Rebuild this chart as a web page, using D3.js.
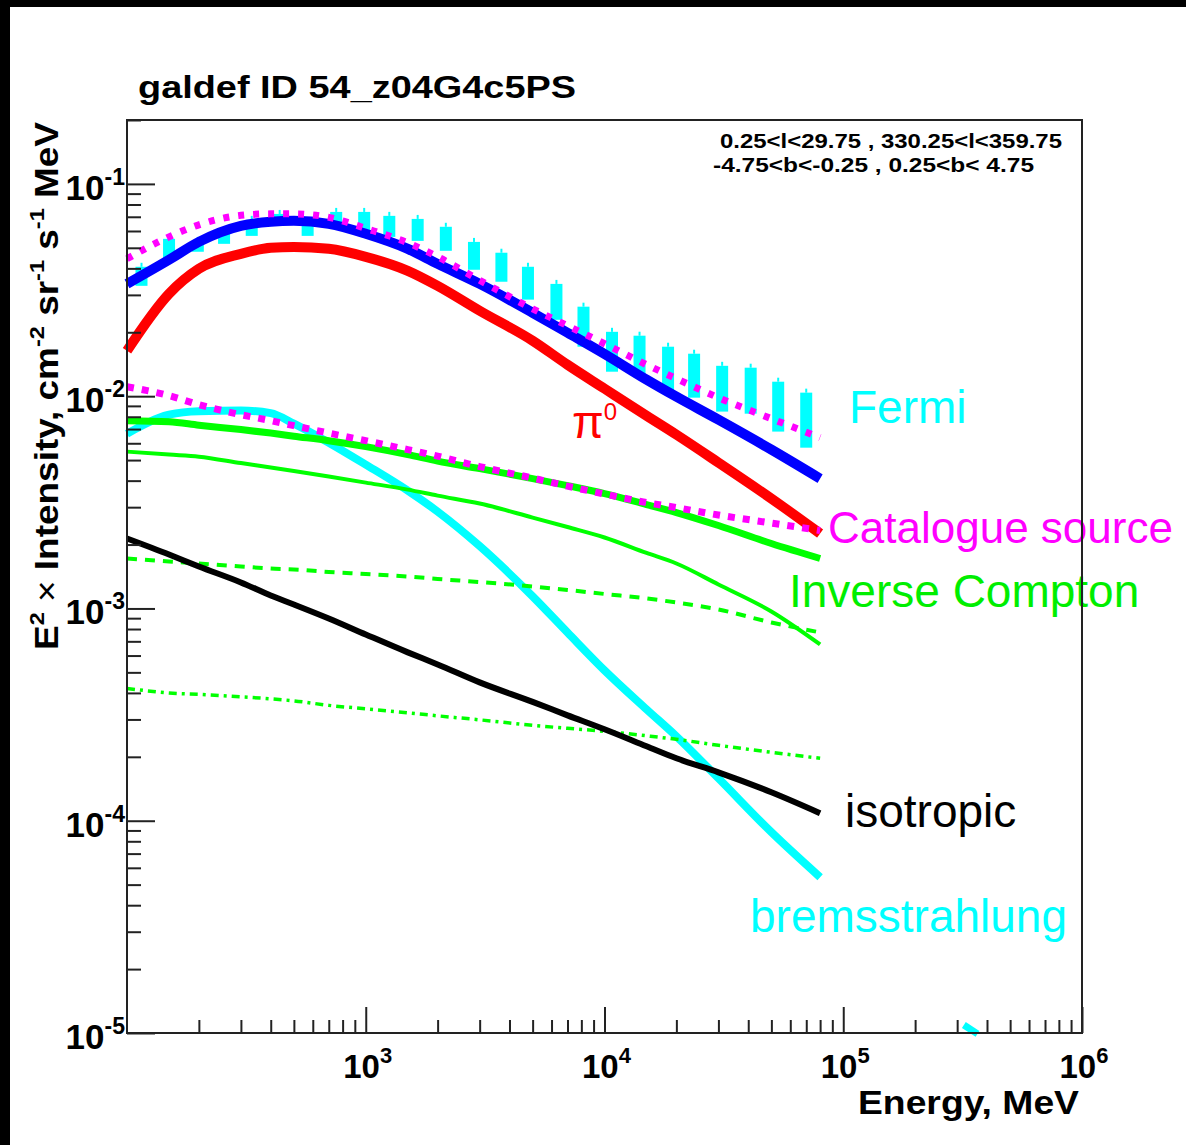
<!DOCTYPE html>
<html>
<head>
<meta charset="utf-8">
<script src="https://cdn.jsdelivr.net/npm/d3@7"></script>
<style>
  body { margin: 0; background: #000; }
  text { font-family: "Liberation Sans", Arial, sans-serif; }
</style>
</head>
<body>
<svg id="chart"></svg>
<script>
// energy grid of the model curves (MeV)
const energies = [100, 150, 200, 300, 400, 500, 700, 1000, 1500, 2000, 3000, 5000, 7000, 10000, 15000, 20000, 30000, 50000, 80000];

// E^2 x intensity, cm^-2 sr^-1 s^-1 MeV
const totalModel = [0.0338, 0.0439, 0.0533, 0.0634, 0.0663, 0.0670, 0.0648, 0.0582, 0.0494, 0.0420, 0.0338, 0.0247, 0.0199, 0.0158, 0.01196, 0.00994, 0.00775, 0.00560, 0.00409];
const pionDecay = [0.01637, 0.03037, 0.0398, 0.04685, 0.0500, 0.0505, 0.04945, 0.04535, 0.03896, 0.0331, 0.02526, 0.01825, 0.01406, 0.01085, 0.00809, 0.00659, 0.004865, 0.003293, 0.002254];
const totalWithSources = [0.04437, 0.0563, 0.06415, 0.0711, 0.07225, 0.07225, 0.0696, 0.0617, 0.0528, 0.04535, 0.03515, 0.0258, 0.02147, 0.01766, 0.01406, 0.01209, 0.00984, 0.007835, 0.00638];
const catalogueSources = [0.01108, 0.010055, 0.00912, 0.00818, 0.00767, 0.00726, 0.0067, 0.00617, 0.0056, 0.00522, 0.00466, 0.004113, 0.00377, 0.003458, 0.003153, 0.002987, 0.002754, 0.002526, 0.002329];
const bremsstrahlung = [0.00666, 0.00818, 0.0085, 0.00855, 0.00832, 0.00742, 0.00604, 0.00476, 0.00359, 0.00286, 0.001968, 0.00114, 0.00077, 0.000511, 0.0003347, 0.0002497, 0.0001585, 0.0000883, 0.0000542];
const icTotal = [0.00767, 0.007585, 0.0073, 0.00696, 0.0067, 0.00648, 0.00617, 0.005785, 0.005305, 0.004945, 0.00456, 0.00409, 0.00379, 0.003477, 0.003085, 0.00283, 0.002458, 0.002022, 0.001719];
const icOptical = [0.00548, 0.005305, 0.00519, 0.00484, 0.00461, 0.004437, 0.00418, 0.003916, 0.00363, 0.0034, 0.00312, 0.00268, 0.002418, 0.002159, 0.001825, 0.001628, 0.001297, 0.000968, 0.000677];
const icInfrared = [0.001719, 0.001664, 0.001628, 0.001576, 0.001542, 0.001526, 0.001485, 0.001453, 0.001414, 0.001377, 0.001332, 0.001269, 0.001222, 0.00117, 0.001115, 0.001067, 0.000989, 0.000859, 0.000771];
const icCMB = [0.00042, 0.0004, 0.0003937, 0.0003833, 0.0003751, 0.0003671, 0.0003495, 0.0003366, 0.0003223, 0.000312, 0.0002987, 0.0002814, 0.0002725, 0.0002638, 0.0002512, 0.0002418, 0.0002266, 0.0002101, 0.0001968];
const isotropic = [0.002135, 0.001795, 0.001576, 0.001326, 0.001151, 0.001044, 0.000897, 0.000754, 0.000621, 0.000545, 0.0004485, 0.000363, 0.0003136, 0.0002696, 0.0002242, 0.0001968, 0.0001691, 0.0001362, 0.0001085];

// Fermi data boxes
const fermiE = [115, 150, 198, 255, 333, 436, 571, 752, 985, 1255, 1650, 2165, 2840, 3700, 4780, 6290, 8165, 10750, 14020, 18460, 23730, 31100, 40950, 53400, 69970];
const fermiLow = [0.0331, 0.0429, 0.0479, 0.0522, 0.0569, 0.0663, 0.0569, 0.0634, 0.0594, 0.0563, 0.0539, 0.0484, 0.0394, 0.0346, 0.0285, 0.0229, 0.0171, 0.01304, 0.01249, 0.01061, 0.00984, 0.00846, 0.00827, 0.00681, 0.00572];
const fermiHigh = [0.0407, 0.0551, 0.0539, 0.0601, 0.0677, 0.0722, 0.0648, 0.0738, 0.0738, 0.0707, 0.0684, 0.0628, 0.0533, 0.0474, 0.0407, 0.0338, 0.0264, 0.0201, 0.01927, 0.0171, 0.01585, 0.0139, 0.01362, 0.0117, 0.01039];

// stray piece near the bottom axis
const strayE = [320000, 365000];
const strayI = [0.0000109, 0.0000099];

// tick labels
const xTickExp = [3, 4, 5, 6];
const yTickExp = [-1, -2, -3, -4, -5];

const W = 1186, H = 1145;
const margin = { left: 127, right: 1082, top: 120, bottom: 1033 };

const svg = d3.select("#chart").attr("width", W).attr("height", H);

svg.append("rect").attr("width", W).attr("height", H).attr("fill", "#000");
svg.append("rect").attr("x", 10).attr("y", 7).attr("width", W - 10).attr("height", H - 7).attr("fill", "#fff");

const x = d3.scaleLog().domain([100, 1e6]).range([margin.left, margin.right]);
const y = d3.scaleLog().domain([1e-5, 0.2]).range([margin.bottom, margin.top]);

// ---- fermi boxes
const fermi = fermiE.map((e, i) => ({ e, lo: fermiLow[i], hi: fermiHigh[i] }));
const gF = svg.append("g");
gF.selectAll("rect").data(fermi).join("rect")
    .attr("x", d => x(d.e) - 6)
    .attr("width", 12)
    .attr("y", d => y(d.hi))
    .attr("height", d => y(d.lo) - y(d.hi))
    .attr("fill", "#00ffff");
gF.selectAll("line").data(fermi).join("line")
    .attr("x1", d => x(d.e)).attr("x2", d => x(d.e))
    .attr("y1", d => y(d.hi) - 4).attr("y2", d => y(d.hi))
    .attr("stroke", "#00ffff").attr("stroke-width", 2);

// ---- model curves
const series = [
    { v: totalModel, color: "#0000ff", w: 10 },
    { v: pionDecay, color: "#ff0000", w: 10 },
    { v: bremsstrahlung, color: "#00ffff", w: 8 },
    { v: icTotal, color: "#00ff00", w: 7 },
    { v: icOptical, color: "#00ff00", w: 4 },
    { v: icInfrared, color: "#00ff00", w: 4, dash: "10,8" },
    { v: icCMB, color: "#00ff00", w: 3.5, dash: "8,5,3,5" },
    { v: isotropic, color: "#000000", w: 6 },
    { v: totalWithSources, color: "#ff00ff", w: 7, dash: "6,9" },
    { v: catalogueSources, color: "#ff00ff", w: 7, dash: "7,8" }
];

const line = d3.line()
    .x(d => x(d[0]))
    .y(d => y(d[1]))
    .curve(d3.curveMonotoneX);

svg.append("g").selectAll("path").data(series).join("path")
    .attr("d", s => line(energies.map((e, i) => [e, s.v[i]])))
    .attr("fill", "none")
    .attr("stroke", s => s.color)
    .attr("stroke-width", s => s.w)
    .attr("stroke-dasharray", s => s.dash || null);

svg.append("path")
    .attr("d", line.curve(d3.curveLinear)(strayE.map((e, i) => [e, strayI[i]])))
    .attr("fill", "none").attr("stroke", "#00ffff").attr("stroke-width", 7);

// ---- axes (ticks inside the frame)
const xMinor = [], yMinor = [];
for (let p = 2; p < 6; p++) for (let k = 2; k <= 9; k++) xMinor.push(k * Math.pow(10, p));
for (let p = -5; p < 0; p++) for (let k = 2; k <= 9; k++) if (k * Math.pow(10, p) <= 0.2) yMinor.push(k * Math.pow(10, p));

function styleAxis(g) {
    g.select(".domain").remove();
    g.selectAll("line").attr("stroke", "#222").attr("stroke-width", 2);
}

svg.append("g").attr("transform", `translate(0,${margin.bottom})`)
    .call(d3.axisTop(x).tickValues(xMinor).tickSize(13).tickFormat(""))
    .call(styleAxis);
svg.append("g").attr("transform", `translate(0,${margin.bottom})`)
    .call(d3.axisTop(x).tickValues(xTickExp.map(p => Math.pow(10, p))).tickSize(26).tickFormat(""))
    .call(styleAxis);
svg.append("g").attr("transform", `translate(${margin.left},0)`)
    .call(d3.axisRight(y).tickValues(yMinor).tickSize(14).tickFormat(""))
    .call(styleAxis);
svg.append("g").attr("transform", `translate(${margin.left},0)`)
    .call(d3.axisRight(y).tickValues(yTickExp.map(p => Math.pow(10, p))).tickSize(28).tickFormat(""))
    .call(styleAxis);

// tick labels 10^n
function powLabel(sel, exp, sup) {
    sel.append("tspan").text("10");
    sel.append("tspan").attr("font-size", sup).attr("dy", -15).text(exp);
}
xTickExp.forEach(p => {
    svg.append("text")
        .attr("x", x(Math.pow(10, p)) + 2).attr("y", 1078)
        .attr("text-anchor", "middle")
        .attr("font-size", 33).attr("font-weight", "bold")
        .call(powLabel, p, 22);
});
yTickExp.forEach(p => {
    svg.append("text")
        .attr("x", 125).attr("y", y(Math.pow(10, p)) + 16)
        .attr("text-anchor", "end")
        .attr("font-size", 35).attr("font-weight", "bold")
        .call(powLabel, p, 23);
});

// axis titles
svg.append("text")
    .attr("x", 1079).attr("y", 1114)
    .attr("text-anchor", "end")
    .attr("font-size", 33).attr("font-weight", "bold")
    .attr("textLength", 221).attr("lengthAdjust", "spacingAndGlyphs")
    .text("Energy, MeV");

const yt = svg.append("text")
    .attr("transform", "translate(58,650) rotate(-90)")
    .attr("font-size", 33).attr("font-weight", "bold")
    .attr("textLength", 528).attr("lengthAdjust", "spacingAndGlyphs");
yt.append("tspan").text("E");
yt.append("tspan").attr("font-size", 21).attr("dy", -14).text("2");
yt.append("tspan").attr("dy", 14).attr("font-weight", "normal").text(" \u00d7 ");
yt.append("tspan").text("Intensity, cm");
yt.append("tspan").attr("font-size", 21).attr("dy", -14).text("-2");
yt.append("tspan").attr("dy", 14).text(" sr");
yt.append("tspan").attr("font-size", 21).attr("dy", -14).text("-1");
yt.append("tspan").attr("dy", 14).text(" s");
yt.append("tspan").attr("font-size", 21).attr("dy", -14).text("-1");
yt.append("tspan").attr("dy", 14).text(" MeV");

// title and region
svg.append("text")
    .attr("x", 138).attr("y", 98)
    .attr("font-size", 31).attr("font-weight", "bold")
    .attr("textLength", 438).attr("lengthAdjust", "spacingAndGlyphs")
    .text("galdef ID 54_z04G4c5PS");
svg.append("text")
    .attr("x", 720).attr("y", 148)
    .attr("font-size", 21).attr("font-weight", "bold")
    .attr("textLength", 342).attr("lengthAdjust", "spacingAndGlyphs")
    .text("0.25<l<29.75 , 330.25<l<359.75");
svg.append("text")
    .attr("x", 713).attr("y", 172)
    .attr("font-size", 21).attr("font-weight", "bold")
    .attr("textLength", 321).attr("lengthAdjust", "spacingAndGlyphs")
    .text("-4.75<b<-0.25 ,  0.25<b< 4.75");

// component labels
const labels = [
    { t: "Fermi", x: 849, y: 423, c: "#00ffff", s: 46 },
    { t: "Catalogue source", x: 828, y: 543, c: "#ff00ff", s: 44 },
    { t: "Inverse Compton", x: 789, y: 607, c: "#00ee00", s: 46 },
    { t: "isotropic", x: 845, y: 827, c: "#000000", s: 46 },
    { t: "bremsstrahlung", x: 750, y: 932, c: "#00ffff", s: 46 }
];
svg.append("g").selectAll("text").data(labels).join("text")
    .attr("x", d => d.x).attr("y", d => d.y)
    .attr("fill", d => d.c)
    .attr("font-size", d => d.s)
    .text(d => d.t);

const pi = svg.append("text").attr("x", 572).attr("y", 438).attr("fill", "#ff0000").attr("font-size", 46);
pi.append("tspan").text("\u03c0");
pi.append("tspan").attr("font-size", 24).attr("dy", -18).text("0");

// frame on top
svg.append("rect")
    .attr("x", margin.left).attr("y", margin.top)
    .attr("width", margin.right - margin.left).attr("height", margin.bottom - margin.top)
    .attr("fill", "none").attr("stroke", "#222").attr("stroke-width", 2);
</script>
</body>
</html>
